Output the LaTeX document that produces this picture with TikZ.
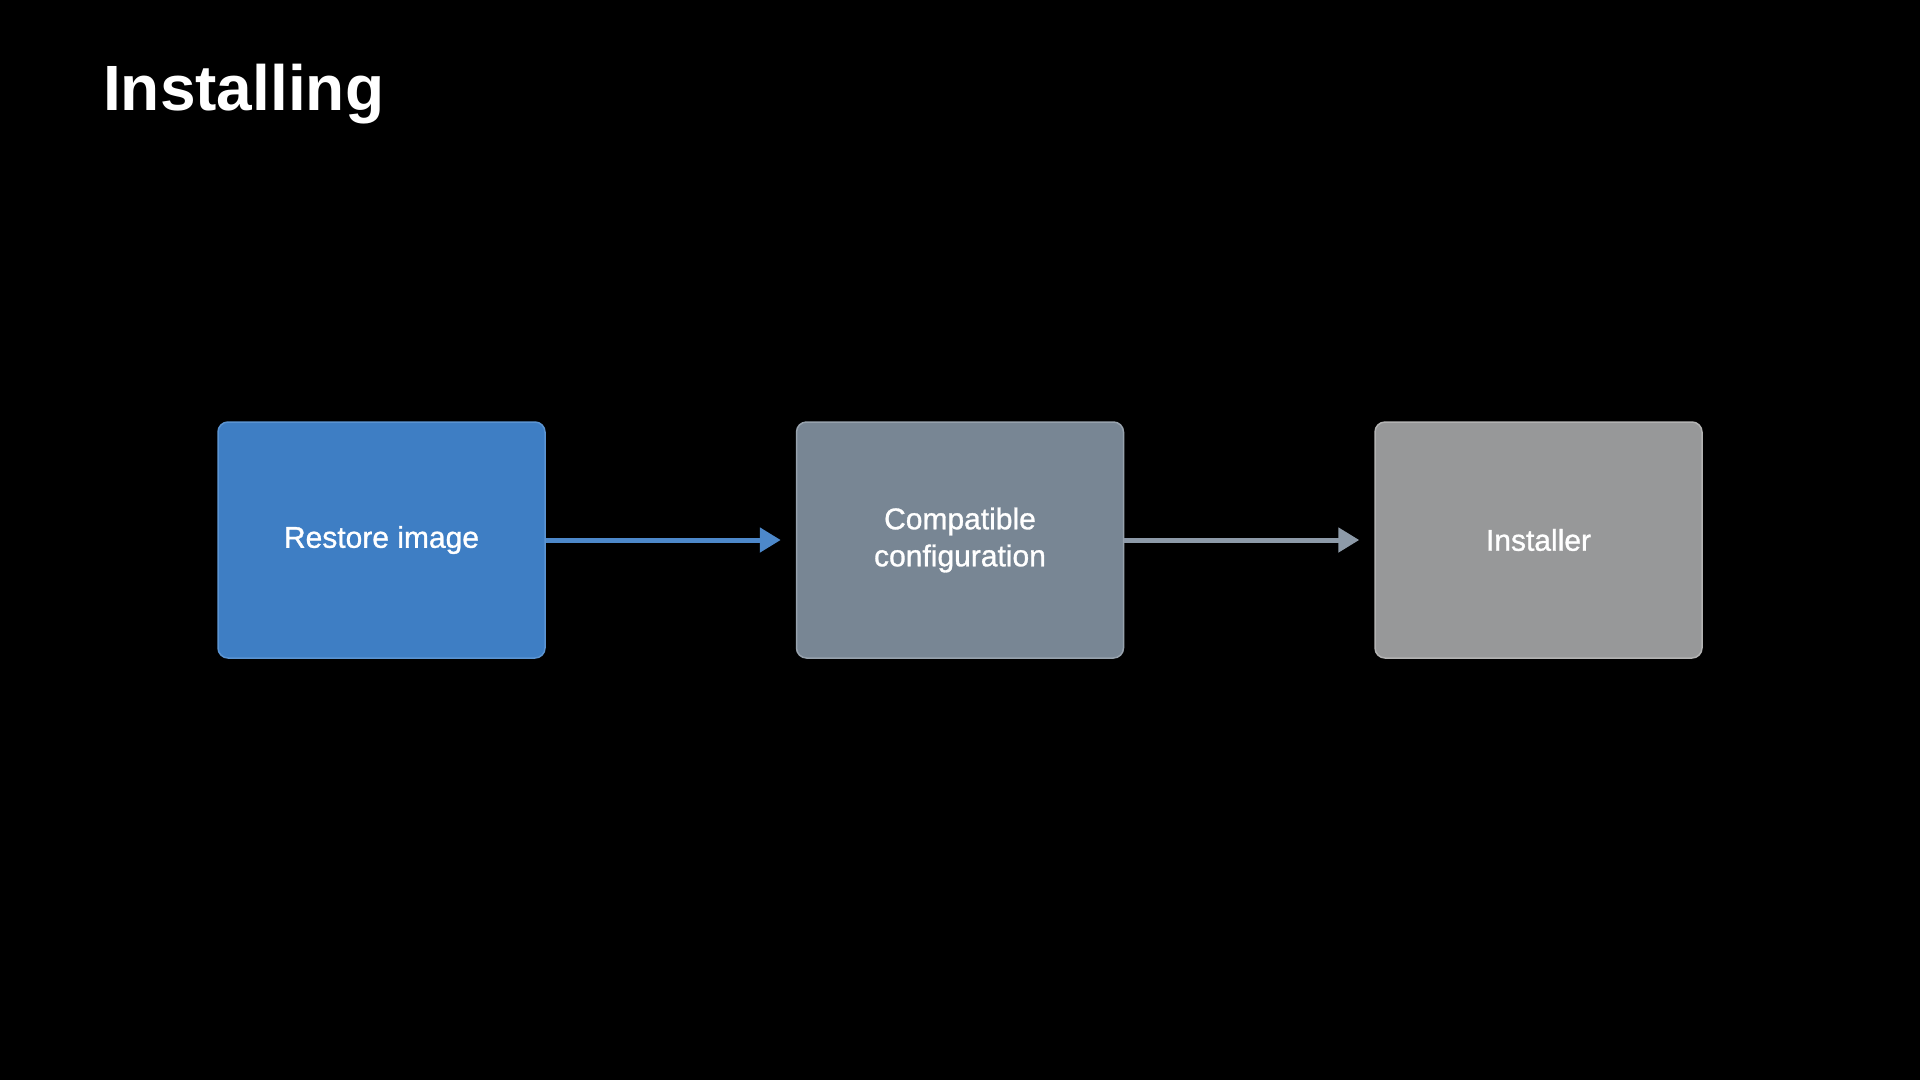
\documentclass[tikz,border=0pt]{standalone}
\usepackage{fontspec}
\setmainfont{Liberation Sans}
\newfontfamily\medfont[FakeBold=1.0]{Liberation Sans}
\usetikzlibrary{arrows.meta}
\definecolor{bluefill}{HTML}{3E7EC4}
\definecolor{blueline}{HTML}{5B94D2}
\definecolor{slatefill}{HTML}{788694}
\definecolor{slateline}{HTML}{97A2AD}
\definecolor{grayfill}{HTML}{979899}
\definecolor{grayline}{HTML}{B3B3B3}
\definecolor{bluearrow}{HTML}{4D88CA}
\definecolor{slatearrow}{HTML}{8D9AA8}
\tikzset{
  stepbox/.style={rounded corners=10pt, line width=1.5pt, minimum width=327pt, minimum height=236pt,
    text=white, align=center, font=\medfont\fontsize{30}{37}\selectfont, inner sep=0pt},
  flowarrow/.style={line width=5pt, shorten >=15pt, -{Triangle[length=21pt,width=24pt]}}
}
\begin{document}
\begin{tikzpicture}[x=1pt,y=-1pt]
\fill[black] (0,0) rectangle (1920,1080);
\useasboundingbox (0,0) rectangle (1920,1080);
\node[anchor=base west, text=white, font=\fontsize{64}{70}\selectfont\bfseries, inner sep=0pt] (title) at (103,110) {Installing};
\node[stepbox, draw=blueline, fill=bluefill] (b1) at (381.5,540) {Restore image};
\node[stepbox, draw=slateline, fill=slatefill] (b2) at (960,540) {Compatible\\configuration};
\node[stepbox, draw=grayline, fill=grayfill] (b3) at (1538.5,540) {Installer};
\draw[flowarrow, draw=bluearrow, fill=bluearrow] (b1.east) -- (b2.west);
\draw[flowarrow, draw=slatearrow, fill=slatearrow] (b2.east) -- (b3.west);
\end{tikzpicture}
\end{document}
